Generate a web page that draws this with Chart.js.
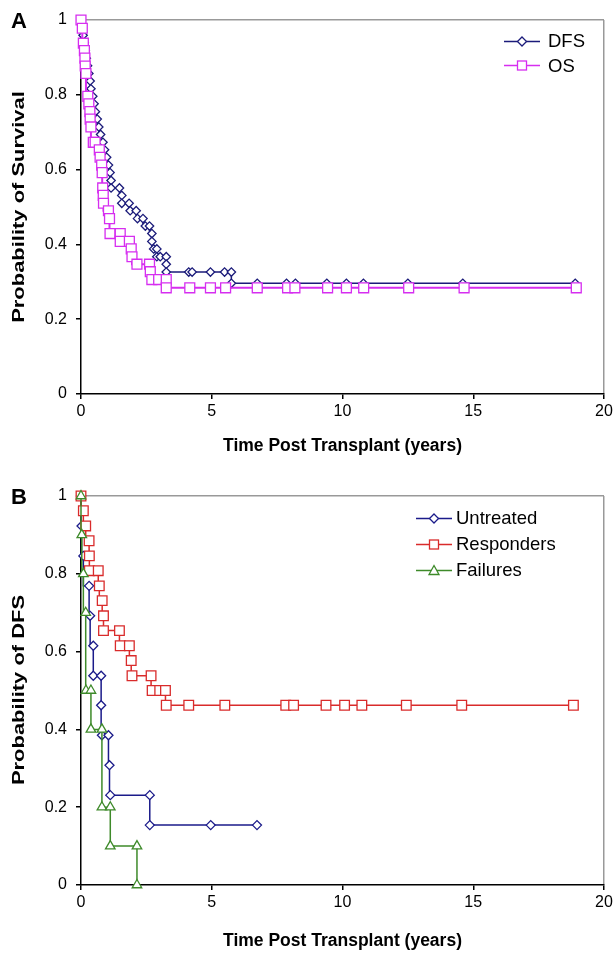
<!DOCTYPE html>
<html>
<head>
<meta charset="utf-8">
<script src="https://cdn.jsdelivr.net/npm/chart.js@4.4.0/dist/chart.umd.min.js"></script>
<style>
body{margin:0;background:#fff;width:616px;height:954px;position:relative;overflow:hidden;font-family:"Liberation Sans",Arial,sans-serif;color:#000}
.panel{position:absolute;left:0;width:616px;height:477px}
.tag{position:absolute;font-weight:bold;font-size:22px;line-height:22px}
.ytitle{position:absolute;font-weight:bold;font-size:16.5px;line-height:20px;white-space:nowrap;transform:translate(-50%,-50%) rotate(-90deg) scaleX(1.33)}
.row{position:absolute;display:flex;align-items:center;white-space:nowrap}
.row svg{display:block}
</style>
</head>
<body>
<div class="panel" style="top:0"><canvas id="chartA" width="616" height="477"></canvas></div>
<div class="panel" style="top:477px"><canvas id="chartB" width="616" height="477"></canvas></div>
<div class="tag" style="left:11px;top:10px">A</div>
<div class="tag" style="left:11px;top:486px">B</div>
<div class="ytitle" style="left:18px;top:207px">Probability of Survival</div>
<div class="ytitle" style="left:18px;top:690px">Probability of DFS</div>
<div id="legA"></div>
<div id="legB"></div>
<script>
// panel A - survival of all patients
const dfsT = [0,0.04,0.08,0.12,0.16,0.2,0.25,0.3,0.35,0.38,0.45,0.5,0.55,0.62,0.68,0.75,0.84,0.9,0.98,1.05,1.11,1.15,1.15,1.47,1.56,1.56,1.84,1.88,2.11,2.16,2.37,2.46,2.62,2.71,2.71,2.78,2.9,2.9,3.03,3.26,3.26,3.26,4.12,4.25,4.95,5.49,5.75,5.75,6.74,7.86,8.2,9.4,10.15,10.8,12.5,14.6,18.9];
const dfsS = [1,0.98,0.959,0.939,0.918,0.898,0.878,0.857,0.837,0.816,0.796,0.776,0.755,0.735,0.714,0.694,0.673,0.653,0.633,0.612,0.592,0.571,0.551,0.551,0.531,0.51,0.51,0.49,0.49,0.469,0.469,0.449,0.449,0.429,0.408,0.388,0.388,0.367,0.367,0.367,0.347,0.326,0.326,0.326,0.326,0.326,0.326,0.296,0.296,0.296,0.296,0.296,0.296,0.296,0.296,0.296,0.296];
const osT = [0,0.05,0.09,0.13,0.15,0.16,0.19,0.26,0.3,0.34,0.35,0.38,0.47,0.54,0.7,0.73,0.79,0.81,0.83,0.85,0.86,1.05,1.09,1.11,1.5,1.5,1.85,1.92,1.95,2.14,2.62,2.65,2.71,2.97,3.26,3.26,4.16,4.95,5.53,6.74,7.9,8.18,9.43,10.15,10.81,12.53,14.65,18.94];
const osS = [1,0.978,0.938,0.918,0.898,0.877,0.857,0.796,0.776,0.755,0.735,0.714,0.673,0.673,0.653,0.633,0.612,0.592,0.551,0.531,0.51,0.49,0.469,0.429,0.429,0.408,0.408,0.388,0.367,0.347,0.347,0.327,0.306,0.306,0.306,0.284,0.284,0.284,0.284,0.284,0.284,0.284,0.284,0.284,0.284,0.284,0.284,0.284];

// panel B - DFS by response
const untT = [0,0.02,0.09,0.31,0.35,0.47,0.47,0.77,0.77,0.8,1.05,1.09,1.12,2.63,2.63,4.96,6.73];
const untS = [1,0.923,0.846,0.769,0.692,0.615,0.538,0.538,0.462,0.385,0.385,0.308,0.231,0.231,0.154,0.154,0.154];
const resT = [0,0.09,0.18,0.31,0.32,0.32,0.66,0.7,0.81,0.86,0.86,1.47,1.5,1.85,1.92,1.95,2.68,2.72,3.01,3.23,3.26,4.12,5.5,7.83,8.13,9.37,10.08,10.74,12.44,14.56,18.83];
const resS = [1,0.962,0.923,0.885,0.846,0.808,0.808,0.769,0.731,0.692,0.654,0.654,0.615,0.615,0.577,0.538,0.538,0.5,0.5,0.5,0.462,0.462,0.462,0.462,0.462,0.462,0.462,0.462,0.462,0.462,0.462];
const failT = [0,0.03,0.09,0.18,0.19,0.38,0.38,0.8,0.8,1.12,1.12,2.14,2.14];
const failS = [1,0.9,0.8,0.7,0.5,0.5,0.4,0.4,0.2,0.2,0.1,0.1,0];

const xTicks = [0,5,10,15,20];
const yTicks = [0,0.2,0.4,0.6,0.8,1];

const pts = (t, s) => t.map((v, i) => ({x: v, y: s[i]}));

function km(label, t, s, color, shape, r, order, lw) {
  return {
    label: label, data: pts(t, s), stepped: 'after', order: order,
    borderColor: color, borderWidth: lw, backgroundColor: '#fff',
    pointStyle: shape, pointRadius: r, pointHoverRadius: r,
    pointBorderColor: color, pointBackgroundColor: '#fff', pointBorderWidth: 1.3,
    clip: false
  };
}

function makeChart(id, datasets, xH, titlePad, top) {
  new Chart(document.getElementById(id), {
    type: 'line',
    data: {datasets: datasets},
    options: {
      responsive: false, animation: false,
      layout: {padding: {top: top, right: 12, left: 0, bottom: 0}},
      plugins: {legend: {display: false}, tooltip: {enabled: false}},
      scales: {
        x: {
          type: 'linear', min: 0, max: 20,
          afterBuildTicks: s => { s.ticks = xTicks.map(v => ({value: v})); },
          afterFit: s => { s.height = xH; },
          ticks: {font: {family: 'Liberation Sans', size: 16}, color: '#000', padding: 3, maxRotation: 0},
          grid: {drawOnChartArea: true, color: c => c.tick && c.tick.value === 20 ? '#999' : 'transparent', tickColor: '#000', tickLength: 5, lineWidth: 1.5},
          border: {color: '#000', width: 1.5},
          title: {display: true, text: 'Time Post Transplant (years)', font: {family: 'Liberation Sans', size: 17.5, weight: 'bold'}, color: '#000', padding: {top: 0, bottom: titlePad}}
        },
        y: {
          min: 0, max: 1,
          afterBuildTicks: s => { s.ticks = yTicks.map(v => ({value: v})); },
          afterFit: s => { s.width = 81; },
          ticks: {font: {family: 'Liberation Sans', size: 16}, color: '#000', padding: 9,
                  callback: v => String(Math.round(v * 10) / 10)},
          grid: {drawOnChartArea: true, color: c => c.tick && c.tick.value === 1 ? '#999' : 'transparent', tickColor: '#000', tickLength: 5, lineWidth: 1.5},
          border: {color: '#000', width: 1.5}
        }
      }
    }
  });
}

makeChart('chartA', [
  km('DFS', dfsT, dfsS, '#1b1b7a', 'rectRot', 4.2, 1, 1.5),
  km('OS', osT, osS, '#d62ef0', 'rect', 7, 0, 2)
], 83, 20.5, 20);

makeChart('chartB', [
  km('Untreated', untT, untS, '#1b1b8a', 'rectRot', 4.5, 2, 1.5),
  km('Responders', resT, resS, '#d92b2b', 'rect', 6.8, 1, 1.5),
  km('Failures', failT, failS, '#3e8a2a', 'triangle', 5.5, 0, 1.5)
], 69, 2.5, 19);

// legends (line + marker, Excel style)
function marker(shape, color) {
  let m = '';
  if (shape === 'rectRot') m = `<polygon points="18,3 22.5,7.5 18,12 13.5,7.5" fill="#fff" stroke="${color}" stroke-width="1.3"/>`;
  if (shape === 'rect') m = `<rect x="13.5" y="3" width="9" height="9" fill="#fff" stroke="${color}" stroke-width="1.3"/>`;
  if (shape === 'triangle') m = `<polygon points="18,2.5 23,11.5 13,11.5" fill="#fff" stroke="${color}" stroke-width="1.3"/>`;
  return `<svg width="36" height="15"><line x1="0" y1="7.5" x2="36" y2="7.5" stroke="${color}" stroke-width="1.5"/>${m}</svg>`;
}
function legend(id, names, colors, shapes, left, top, gap, size, sp) {
  const el = document.getElementById(id);
  names.forEach((n, i) => {
    const d = document.createElement('div');
    d.className = 'row';
    d.style.left = left + 'px';
    d.style.top = (top + i * gap) + 'px';
    d.style.fontSize = size + 'px';
    d.innerHTML = marker(shapes[i], colors[i]) + '<span style="margin-left:' + sp + 'px">' + n + '</span>';
    el.appendChild(d);
  });
}
legend('legA', ['DFS', 'OS'], ['#1b1b7a', '#d62ef0'], ['rectRot', 'rect'], 504, 30, 24.5, 18.5, 8);
legend('legB', ['Untreated', 'Responders', 'Failures'], ['#1b1b8a', '#d92b2b', '#3e8a2a'], ['rectRot', 'rect', 'triangle'], 416, 507, 26.2, 18.5, 4);
</script>
</body>
</html>
